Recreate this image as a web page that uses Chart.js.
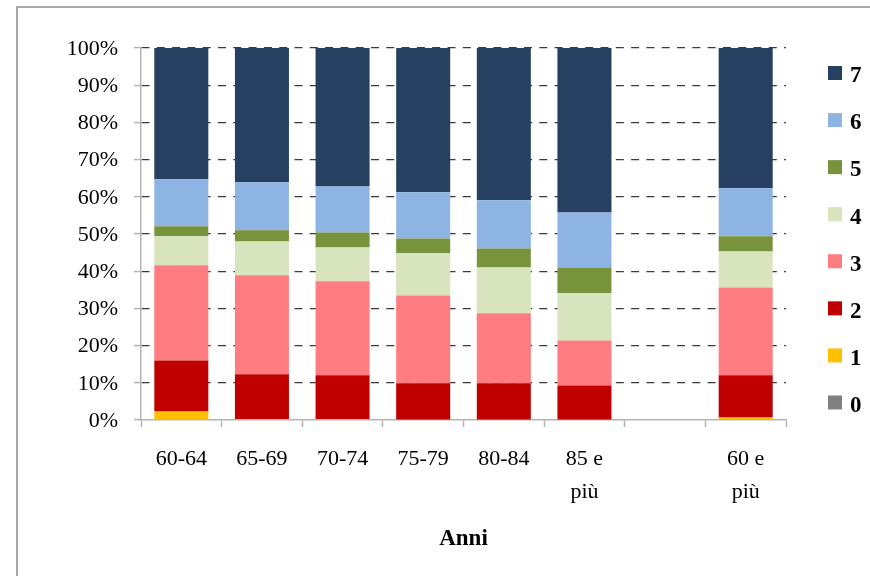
<!DOCTYPE html>
<html>
<head>
<meta charset="utf-8">
<script src="https://cdn.jsdelivr.net/npm/chart.js@4/dist/chart.umd.min.js"></script>
<style>
  html, body { margin: 0; padding: 0; background: #ffffff; overflow: hidden; }
  #wrap { position: relative; width: 870px; height: 576px; }
  #frame { position: absolute; left: 16px; top: 6px; width: 900px; height: 620px; border: 2px solid #a6a6a6; }
  #chart { position: absolute; left: 0; top: 0; }
</style>
</head>
<body>
<div id="wrap">
  <div id="frame"></div>
  <canvas id="chart" width="870" height="576"></canvas>
</div>
<script>
// Age groups (the empty slot separates the totals column)
const categories = ['60-64', '65-69', '70-74', '75-79', '80-84', ['85 e', 'più'], '', ['60 e', 'più']];

// Share of people (%) by score 0..7 in each age group
const score0 = [0, 0, 0, 0, 0, 0, null, 0];
const score1 = [2.3, 0.3, 0.3, 0, 0, 0, null, 0.7];
const score2 = [13.7, 12.0, 11.7, 9.9, 9.9, 9.3, null, 11.3];
const score3 = [25.6, 26.6, 25.3, 23.6, 18.8, 12.1, null, 23.6];
const score4 = [7.8, 9.1, 9.1, 11.3, 12.3, 12.7, null, 9.7];
const score5 = [2.7, 3.0, 4.0, 4.0, 5.1, 6.9, null, 4.1];
const score6 = [12.6, 12.9, 12.4, 12.4, 13.0, 14.8, null, 12.9];
const score7 = [35.3, 36.1, 37.2, 38.8, 40.9, 44.2, null, 37.7];

const seriesLabels = ['0', '1', '2', '3', '4', '5', '6', '7'];
const seriesValues = [score0, score1, score2, score3, score4, score5, score6, score7];
const seriesColors = ['#808080', '#ffc000', '#c00000', '#ff7c80', '#d7e4bd', '#77933c', '#8eb4e3', '#254061'];

const yTicks = [0, 10, 20, 30, 40, 50, 60, 70, 80, 90, 100];
const xTitle = 'Anni';

const SERIF = '"Liberation Serif", "Times New Roman", serif';
const AXIS_GRAY = '#b4b4b4';

// Legend on the right: highest score on top
const sideLegend = {
  id: 'sideLegend',
  afterDraw(chart) {
    const ctx = chart.ctx;
    const sets = chart.data.datasets.slice().reverse();
    ctx.save();
    ctx.font = 'bold 23px ' + SERIF;
    ctx.textAlign = 'left';
    ctx.textBaseline = 'alphabetic';
    sets.forEach((ds, i) => {
      const y = 66 + i * 47.07;
      ctx.fillStyle = ds.backgroundColor;
      ctx.fillRect(828, y, 14, 14);
      ctx.fillStyle = '#000000';
      ctx.fillText(ds.label, 850, y + 16.3);
    });
    ctx.restore();
  }
};

new Chart(document.getElementById('chart'), {
  type: 'bar',
  data: {
    labels: categories,
    datasets: seriesLabels.map((lab, i) => ({
      label: lab,
      data: seriesValues[i],
      backgroundColor: seriesColors[i],
      borderWidth: 0,
      categoryPercentage: 1.0,
      barPercentage: 0.67
    }))
  },
  options: {
    responsive: false,
    animation: false,
    events: [],
    layout: { padding: { top: 48, right: 84, bottom: 0, left: 0 } },
    plugins: {
      legend: { display: false },
      tooltip: { enabled: false }
    },
    scales: {
      x: {
        stacked: true,
        afterFit(scale) { scale.height = 156; },
        grid: {
          offset: true,
          drawOnChartArea: false,
          drawTicks: true,
          tickLength: 7,
          tickColor: AXIS_GRAY,
          tickWidth: 1.5
        },
        border: { display: true, color: AXIS_GRAY, width: 1.5 },
        ticks: {
          color: '#000000',
          padding: 16,
          maxRotation: 0,
          autoSkip: false,
          font: { family: SERIF, size: 22, lineHeight: 1.5 }
        },
        title: {
          display: true,
          text: xTitle,
          color: '#000000',
          font: { family: SERIF, size: 23, weight: 'bold', lineHeight: 1.2 },
          padding: { top: 0, bottom: 23 }
        }
      },
      y: {
        stacked: true,
        min: 0,
        max: 100,
        afterFit(scale) { scale.width = 141; },
        afterBuildTicks(scale) { scale.ticks = yTicks.map(v => ({ value: v })); },
        grid: {
          color: (c) => (c.tick && c.tick.value === 0 ? 'rgba(0,0,0,0)' : '#3a3a3a'),
          lineWidth: 1.2,
          drawTicks: true,
          tickLength: 7,
          tickColor: AXIS_GRAY,
          tickWidth: 1.5,
          tickBorderDash: []
        },
        border: { display: true, color: AXIS_GRAY, width: 1.5, dash: [8, 7.3] },
        ticks: {
          color: '#000000',
          padding: 16,
          labelOffset: 1,
          font: { family: SERIF, size: 22 },
          callback: (v) => v + '%'
        }
      }
    }
  },
  plugins: [sideLegend]
});
</script>
</body>
</html>
